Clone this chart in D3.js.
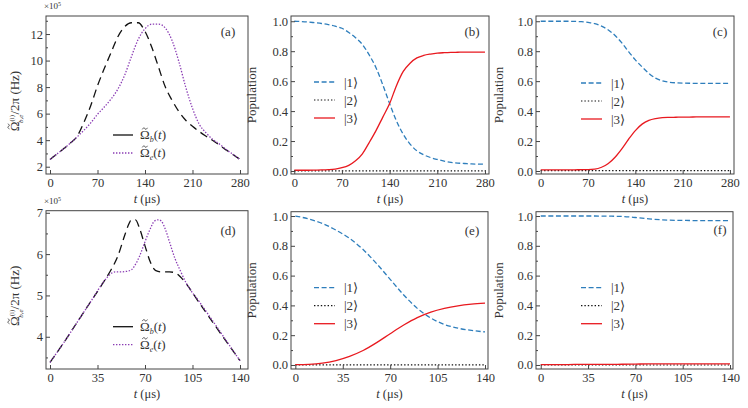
<!DOCTYPE html>
<html>
<head>
<meta charset="utf-8">
<script src="https://cdn.jsdelivr.net/npm/d3@7"></script>
<style>
  body { margin: 0; background: #fff; }
  text { font-family: "Liberation Serif", "Times New Roman", serif; fill: #333; }
</style>
</head>
<body>
<svg id="fig" width="748" height="408"></svg>
<script>
// ---- data ----
// (a) pulses, t = 0..280 us, units of 1e5 Hz
const tA = d3.range(0, 281, 10);
const omegaBa = [2.55, 2.95, 3.35, 3.78, 4.3, 5.35, 6.6, 8.1, 9.4, 10.6, 11.8, 12.55, 12.85, 12.85, 12.2,
  11.0, 9.5, 8.0, 7.0, 6.15, 5.5, 5.05, 4.65, 4.3, 3.97, 3.62, 3.25, 2.9, 2.55];
const omegaEa = [2.55, 2.95, 3.35, 3.78, 4.25, 4.75, 5.3, 5.95, 6.5, 7.1, 7.85, 8.9, 10.3, 11.6, 12.4,
  12.75, 12.75, 12.45, 11.5, 9.9, 8.0, 6.4, 5.2, 4.55, 4.05, 3.7, 3.28, 2.92, 2.55];

// (d) pulses, t = 0..140 us
const tDb = [0, 10, 20, 30, 40, 45, 50, 55, 58, 60, 63, 66, 70, 74, 78, 82, 88, 92, 96, 100, 110, 120, 130, 140];
const omegaBd = [3.38, 3.85, 4.35, 4.85, 5.35, 5.62, 5.95, 6.45, 6.72, 6.83, 6.83, 6.62, 6.2, 5.8, 5.6, 5.57,
  5.57, 5.55, 5.45, 5.3, 4.82, 4.35, 3.88, 3.42];
const tDe = [0, 10, 20, 30, 40, 44, 48, 52, 56, 60, 62, 66, 70, 74, 77, 80, 82, 85, 88, 92, 96, 100, 110, 120, 130, 140];
const omegaEd = [3.38, 3.85, 4.35, 4.85, 5.35, 5.5, 5.57, 5.57, 5.58, 5.62, 5.7, 5.95, 6.3, 6.62, 6.8, 6.83,
  6.8, 6.6, 6.3, 5.9, 5.6, 5.32, 4.85, 4.38, 3.9, 3.42];

// populations
const tLong = d3.range(0, 281, 10);
const tShort = d3.range(0, 141, 10);
const pop1b = [1.0, 0.998, 0.995, 0.99, 0.985, 0.977, 0.967, 0.953, 0.925, 0.89, 0.845, 0.775, 0.69, 0.575, 0.45,
  0.335, 0.245, 0.18, 0.135, 0.108, 0.09, 0.077, 0.066, 0.058, 0.053, 0.05, 0.047, 0.046, 0.045];
const pop2b = [0.001, 0.001, 0.001, 0.001, 0.001, 0.001, 0.001, 0.001, 0.001, 0.001, 0.001, 0.001, 0.001, 0.001, 0.001,
  0.001, 0.001, 0.001, 0.001, 0.001, 0.001, 0.001, 0.001, 0.001, 0.001, 0.001, 0.001, 0.001, 0.001];
const pop3b = [0.005, 0.005, 0.005, 0.006, 0.007, 0.009, 0.013, 0.022, 0.038, 0.068, 0.115, 0.19, 0.27, 0.36, 0.45,
  0.57, 0.665, 0.72, 0.755, 0.772, 0.781, 0.787, 0.79, 0.792, 0.793, 0.794, 0.794, 0.794, 0.794];

const pop1c = [1.0, 1.0, 1.0, 1.0, 1.0, 0.999, 0.997, 0.992, 0.984, 0.967, 0.942, 0.905, 0.855, 0.797, 0.742,
  0.695, 0.652, 0.62, 0.602, 0.593, 0.589, 0.587, 0.586, 0.585, 0.585, 0.585, 0.585, 0.585, 0.585];
const pop2c = [0.003, 0.003, 0.003, 0.003, 0.003, 0.003, 0.003, 0.003, 0.003, 0.003, 0.003, 0.003, 0.003, 0.003, 0.003,
  0.003, 0.003, 0.003, 0.003, 0.003, 0.003, 0.003, 0.003, 0.003, 0.003, 0.003, 0.003, 0.003, 0.003];
const pop3c = [0.008, 0.008, 0.008, 0.008, 0.008, 0.008, 0.009, 0.009, 0.012, 0.025, 0.05, 0.092, 0.148, 0.212, 0.27,
  0.313, 0.338, 0.35, 0.356, 0.358, 0.359, 0.36, 0.36, 0.361, 0.361, 0.361, 0.362, 0.362, 0.362];

const pop1e = [1.0, 0.98, 0.95, 0.905, 0.85, 0.775, 0.68, 0.575, 0.47, 0.38, 0.315, 0.272, 0.247, 0.232, 0.222];
const pop2e = [0.001, 0.001, 0.001, 0.001, 0.001, 0.001, 0.001, 0.001, 0.001, 0.001, 0.001, 0.001, 0.001, 0.001, 0.001];
const pop3e = [0.002, 0.004, 0.012, 0.03, 0.058, 0.097, 0.15, 0.21, 0.268, 0.318, 0.355, 0.38, 0.397, 0.408, 0.415];

const pop1f = [1.0, 1.0, 1.0, 1.0, 1.0, 0.999, 0.997, 0.99, 0.981, 0.974, 0.971, 0.97, 0.969, 0.969, 0.969];
const pop2f = [0, 0, 0, 0, 0, 0, 0, 0, 0, 0, 0, 0, 0, 0, 0];
const pop3f = [0.003, 0.003, 0.003, 0.004, 0.004, 0.004, 0.005, 0.006, 0.007, 0.007, 0.008, 0.008, 0.008, 0.008, 0.008];

const xTicksLong = [0, 70, 140, 210, 280];
const xTicksShort = [0, 35, 70, 105, 140];
const popTicks = [0, 0.2, 0.4, 0.6, 0.8, 1.0];
const popMinor = [0.1, 0.3, 0.5, 0.7, 0.9];
const stateLabels = ["|1\u27E9", "|2\u27E9", "|3\u27E9"];

// ---- styles ----
const sty = {
  omB: { stroke: "#111", dash: "8,5", width: 1.3 },
  omE: { stroke: "#8a3cb4", dash: "1.4,1.6", width: 1.3 },
  p1: { stroke: "#2e7ebc", dash: "5,2.6", width: 1.3 },
  p2: { stroke: "#111", dash: "1.4,2", width: 1.2 },
  p3: { stroke: "#e8191f", dash: null, width: 1.3 }
};

const svg = d3.select("#fig");

// panel layout
const panels = [
  { tag: "(a)", x: 46, y: 16, w: 202, h: 158, xd: [-5.9, 291.8], yd: [1.45, 13.36], xt: xTicksLong,
    yt: [2, 4, 6, 8, 10, 12], ym: [3, 5, 7, 9, 11, 13], fmt: d3.format("d"), kind: "pulse",
    series: [{ t: tA, v: omegaBa, s: sty.omB }, { t: tA, v: omegaEa, s: sty.omE }], leg: [67, 119], lab: [182, 20] },
  { tag: "(b)", x: 291, y: 16, w: 198, h: 158, xd: [-4.8, 285.9], yd: [-0.02, 1.035], xt: xTicksLong,
    yt: popTicks, ym: popMinor, fmt: d3.format(".1f"), kind: "pop",
    series: [{ t: tLong, v: pop2b, s: sty.p2 }, { t: tLong, v: pop1b, s: sty.p1 }, { t: tLong, v: pop3b, s: sty.p3 }],
    leg: [23, 66], lab: [181, 20] },
  { tag: "(c)", x: 536, y: 16, w: 198, h: 158, xd: [-7, 286], yd: [-0.02, 1.035], xt: xTicksLong,
    yt: popTicks, ym: popMinor, fmt: d3.format(".1f"), kind: "pop",
    series: [{ t: tLong, v: pop2c, s: sty.p2 }, { t: tLong, v: pop1c, s: sty.p1 }, { t: tLong, v: pop3c, s: sty.p3 }],
    leg: [45, 67], lab: [184, 20] },
  { tag: "(d)", x: 46, y: 210.7, w: 202, h: 158.3, xd: [-2.95, 145.9], yd: [3.22, 7.05], xt: xTicksShort,
    yt: [4, 5, 6, 7], ym: [3.5, 4.5, 5.5, 6.5], fmt: d3.format("d"), kind: "pulse",
    series: [{ t: tDb, v: omegaBd, s: sty.omB }, { t: tDe, v: omegaEd, s: sty.omE }], leg: [67, 116], lab: [182, 24] },
  { tag: "(e)", x: 291, y: 211.7, w: 197, h: 157.3, xd: [-3.2, 142.2], yd: [-0.027, 1.029], xt: xTicksShort,
    yt: popTicks, ym: popMinor, fmt: d3.format(".1f"), kind: "pop",
    series: [{ t: tShort, v: pop2e, s: sty.p2 }, { t: tShort, v: pop1e, s: sty.p1 }, { t: tShort, v: pop3e, s: sty.p3 }],
    leg: [23, 76], lab: [181, 23] },
  { tag: "(f)", x: 536, y: 211.7, w: 197, h: 157.3, xd: [-3.5, 142.2], yd: [-0.027, 1.029], xt: xTicksShort,
    yt: popTicks, ym: popMinor, fmt: d3.format(".1f"), kind: "pop",
    series: [{ t: tShort, v: pop2f, s: sty.p2 }, { t: tShort, v: pop1f, s: sty.p1 }, { t: tShort, v: pop3f, s: sty.p3 }],
    leg: [45, 76], lab: [184, 22] }
];

function styleLine(sel, s) {
  sel.attr("fill", "none").attr("stroke", s.stroke).attr("stroke-width", s.width);
  if (s.dash) sel.attr("stroke-dasharray", s.dash);
  return sel;
}

// draw a small tilde path over the first character of a text element
function tildeOver(parent, textSel, fs) {
  const node = textSel.node();
  const s = node.getStartPositionOfChar(0);
  const e = node.getEndPositionOfChar(0);
  const cx = (s.x + e.x) / 2, cy = s.y - 0.8 * fs, hw = 0.2 * fs;
  parent.append("path")
    .attr("transform", textSel.attr("transform"))
    .attr("d", `M${cx - hw},${cy + 0.8} C${cx - hw * 0.5},${cy - 1.6} ${cx},${cy - 0.6} ${cx},${cy} ` +
      `S${cx + hw * 0.5},${cy + 1.6} ${cx + hw},${cy - 0.8}`)
    .attr("fill", "none").attr("stroke", "#333").attr("stroke-width", 0.8);
}

function omegaLegend(parent, x, y, sub, size) {
  const t = parent.append("text").attr("x", x).attr("y", y).attr("font-size", size);
  t.append("tspan").text("\u03A9");
  t.append("tspan").attr("font-size", size * 0.62).attr("font-style", "italic").attr("dy", 3).text(sub);
  t.append("tspan").attr("dy", -3).text("(");
  t.append("tspan").attr("font-style", "italic").text("t");
  t.append("tspan").text(")");
  tildeOver(parent, t, size);
}

panels.forEach((p) => {
  const g = svg.append("g").attr("transform", `translate(${p.x},${p.y})`);
  const x = d3.scaleLinear().domain(p.xd).range([0, p.w]);
  const y = d3.scaleLinear().domain(p.yd).range([p.h, 0]);

  // curves
  const line = d3.line().x((d) => x(d[0])).y((d) => y(d[1])).curve(d3.curveMonotoneX);
  p.series.forEach((s) => {
    g.append("path").datum(d3.zip(s.t, s.v)).attr("d", line).call(styleLine, s.s);
  });

  // axes, ticks pointing inward
  const xAxis = g.append("g").attr("transform", `translate(0,${p.h})`)
    .call(d3.axisBottom(x).tickValues(p.xt).tickSize(-4).tickPadding(4).tickFormat(d3.format("d")));
  const yAxis = g.append("g")
    .call(d3.axisLeft(y).tickValues(p.yt).tickSize(-4).tickPadding(3).tickFormat(p.fmt));
  g.append("g").call(d3.axisLeft(y).tickValues(p.ym).tickSize(-2).tickFormat(""))
    .call((a) => a.select(".domain").remove());
  [xAxis, yAxis].forEach((a) => {
    a.select(".domain").remove();
    a.selectAll("text").attr("font-family", "Liberation Serif, serif").attr("font-size", 12.5).attr("fill", "#333");
  });
  g.selectAll(".tick line").attr("stroke", "#444");

  g.append("rect").attr("width", p.w).attr("height", p.h)
    .attr("fill", "none").attr("stroke", "#444").attr("stroke-width", 1);

  // panel tag
  g.append("text").attr("x", p.lab[0]).attr("y", p.lab[1]).attr("text-anchor", "middle")
    .attr("font-size", 13).text(p.tag);

  // x label
  const xl = g.append("text").attr("x", p.w / 2).attr("y", p.h + 29).attr("text-anchor", "middle")
    .attr("font-size", 12.5);
  xl.append("tspan").attr("font-style", "italic").text("t");
  xl.append("tspan").text(" (\u03BCs)");

  // legend
  const lg = g.append("g").attr("transform", `translate(${p.leg[0]},${p.leg[1]})`);
  if (p.kind === "pulse") {
    lg.append("line").attr("x1", 0).attr("x2", 20).attr("y1", 0).attr("y2", 0)
      .call(styleLine, { stroke: "#111", dash: null, width: 1.3 });
    lg.append("line").attr("x1", 0).attr("x2", 20).attr("y1", 18).attr("y2", 18).call(styleLine, sty.omE);
    omegaLegend(lg, 27, 4, "b", 13);
    omegaLegend(lg, 27, 22, "e", 13);

    // y label with stacked indices
    const fs = 13;
    const yl = g.append("text").attr("transform", `translate(-27,${p.h / 2 + 6}) rotate(-90)`)
      .attr("text-anchor", "middle").attr("font-size", fs);
    yl.append("tspan").text("\u03A9");
    yl.append("tspan").attr("font-size", 7).attr("dy", -5).text("(i)");
    yl.append("tspan").attr("font-size", 7).attr("font-style", "italic").attr("dx", -8).attr("dy", 9).text("b,e");
    yl.append("tspan").attr("dy", -4).text("/2\u03C0 (Hz)");
    tildeOver(g, yl, fs);

    g.append("text").attr("x", -2).attr("y", -7).attr("font-size", 9)
      .text("\u00D710").append("tspan").attr("font-size", 6).attr("dy", -3).text("5");
  } else {
    const legStyles = [sty.p1, sty.p2, sty.p3];
    stateLabels.forEach((lab, i) => {
      lg.append("line").attr("x1", 0).attr("x2", 21).attr("y1", i * 18).attr("y2", i * 18)
        .call(styleLine, legStyles[i]);
      lg.append("text").attr("x", 30).attr("y", i * 18 + 4.5).attr("font-size", 13).text(lab);
    });
    g.append("text").attr("transform", `translate(${p.x < 400 ? -35 : -33},${p.h / 2}) rotate(-90)`)
      .attr("text-anchor", "middle").attr("font-size", 13).text("Population");
  }
});
</script>
</body>
</html>
